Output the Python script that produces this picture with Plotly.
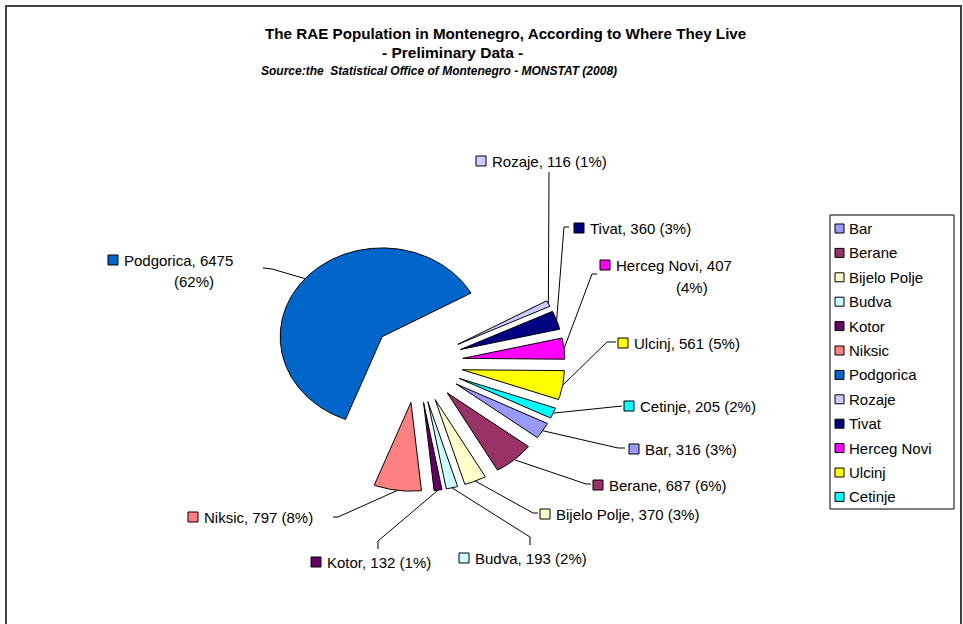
import math
import plotly.graph_objects as go

# data
towns = ['Bar', 'Berane', 'Bijelo Polje', 'Budva', 'Kotor', 'Niksic',
         'Podgorica', 'Rozaje', 'Tivat', 'Herceg Novi', 'Ulcinj', 'Cetinje']
population = [316, 687, 370, 193, 132, 797, 6475, 116, 360, 407, 561, 205]
percent = [3, 6, 3, 2, 1, 8, 62, 1, 3, 4, 5, 2]
colors = ['#9999FF', '#993366', '#FFFFCC', '#CCFFFF', '#660066', '#FF8080',
          '#0066CC', '#CCCCFF', '#000080', '#FF00FF', '#FFFF00', '#00FFFF']

W, H = 963, 624
FONT = 'Liberation Sans, Arial, sans-serif'

# pie geometry (pixels); the original picture is stretched sideways
CX, CY = 417, 362.8
RY = 88.7
XSTRETCH = 1.15
EXPLODE = 40
START = 116.5  # first slice starts here, degrees clockwise from 12 o'clock

# where each data label sits: square left x, centre y, leader hook points
label_pos = {
    'Bar':         dict(sx=629, cy=449, hook=[(625, 448), (618, 448)]),
    'Berane':      dict(sx=593, cy=485, hook=[(591, 484), (586, 484)]),
    'Bijelo Polje': dict(sx=540, cy=514, hook=[(538, 513), (533, 513)]),
    'Budva':       dict(sx=459, cy=558, hook=[(530, 545), (530, 537)]),
    'Kotor':       dict(sx=311, cy=562, hook=[(378, 549), (378, 541)]),
    'Niksic':      dict(sx=188, cy=517, hook=[(333, 517), (338, 517)]),
    'Podgorica':   dict(sx=108, cy=260, hook=[(263, 268), (272, 269)], l2=(172, 281)),
    'Rozaje':      dict(sx=476, cy=161, hook=[(549, 172)]),
    'Tivat':       dict(sx=574, cy=228, hook=[(569, 227), (564, 227)]),
    'Herceg Novi': dict(sx=600, cy=265, hook=[(597, 274), (592, 274)], l2=(674, 287)),
    'Ulcinj':      dict(sx=618, cy=343, hook=[(616, 342), (607, 342)]),
    'Cetinje':     dict(sx=624, cy=406, hook=[(622, 406)]),
}


def pt(ox, oy, angle, dist):
    a = math.radians(angle)
    return ox + XSTRETCH * dist * math.sin(a), oy - dist * math.cos(a)


fig = go.Figure()
total = sum(population)
cum = 0
anchors = {}
for name, v, col in zip(towns, population, colors):
    a0 = START + 360 * cum / total
    a1 = START + 360 * (cum + v) / total
    mid = (a0 + a1) / 2
    cum += v
    ox, oy = pt(CX, CY, mid, EXPLODE)
    n = int(a1 - a0) + 2
    xs, ys = [ox], [oy]
    for k in range(n + 1):
        x, y = pt(ox, oy, a0 + (a1 - a0) * k / n, RY)
        xs.append(x)
        ys.append(y)
    xs.append(ox)
    ys.append(oy)
    fig.add_trace(go.Scatter(x=xs, y=ys, mode='lines', fill='toself', fillcolor=col,
                             line=dict(color='black', width=1), showlegend=False,
                             hoverinfo='text', text='%s: %d' % (name, v)))
    anchors[name] = pt(CX, CY, mid, EXPLODE + RY)

# leader lines
lx, ly = [], []
for name in towns:
    pts = label_pos[name]['hook'] + [anchors[name]]
    for p in pts:
        lx.append(p[0])
        ly.append(p[1])
    lx.append(None)
    ly.append(None)
fig.add_trace(go.Scatter(x=lx, y=ly, mode='lines', line=dict(color='black', width=1),
                         showlegend=False, hoverinfo='skip'))

shapes = []
annotations = []

# data labels
for name, v, p, col in zip(towns, population, percent, colors):
    lp = label_pos[name]
    sx, cy = lp['sx'], lp['cy']
    shapes.append(dict(type='rect', xref='x', yref='y', x0=sx, x1=sx + 10, y0=cy - 5, y1=cy + 5,
                       fillcolor=col, line=dict(color='black', width=1)))
    txt = '%s, %d (%d%%)' % (name, v, p)
    if 'l2' in lp:
        first, second = txt.rsplit(' ', 1)
        annotations.append(dict(x=lp['l2'][0], y=lp['l2'][1], text=second, xref='x', yref='y',
                                xanchor='left', yanchor='middle', showarrow=False))
        txt = first
    annotations.append(dict(x=sx + 14, y=cy, text=txt, xref='x', yref='y',
                            xanchor='left', yanchor='middle', showarrow=False))

# legend box
shapes.append(dict(type='rect', xref='x', yref='y', x0=830, x1=954, y0=215, y1=509,
                   line=dict(color='black', width=1), fillcolor='white', layer='below'))
for i, (name, col) in enumerate(zip(towns, colors)):
    cy = 228.5 + 24.4 * i
    shapes.append(dict(type='rect', xref='x', yref='y', x0=835, x1=844, y0=cy - 4.5, y1=cy + 4.5,
                       fillcolor=col, line=dict(color='black', width=1)))
    annotations.append(dict(x=847, y=cy, text=name, xref='x', yref='y',
                            xanchor='left', yanchor='middle', showarrow=False))

# chart frame
shapes.append(dict(type='rect', xref='x', yref='y', x0=6, x1=961, y0=6, y1=700,
                   line=dict(color='#404040', width=2), layer='below'))

# titles
annotations.append(dict(x=505, y=33, xref='x', yref='y', showarrow=False,
                        text='<b>The RAE Population in Montenegro, According to Where They Live</b>',
                        font=dict(size=15.2)))
annotations.append(dict(x=452, y=52, xref='x', yref='y', showarrow=False,
                        text='<b>- Preliminary Data -</b>', font=dict(size=15.5)))
annotations.append(dict(x=259, y=71, xref='x', yref='y', showarrow=False, xanchor='left',
                        text='<b><i>Source:the  Statistical Office of Montenegro - MONSTAT (2008)</i></b>',
                        font=dict(size=12)))

fig.update_layout(
    width=W, height=H,
    margin=dict(l=0, r=0, t=0, b=0),
    paper_bgcolor='white', plot_bgcolor='white',
    font=dict(family=FONT, size=15, color='black'),
    xaxis=dict(range=[0, W], visible=False, fixedrange=True),
    yaxis=dict(range=[H, 0], visible=False, fixedrange=True),
    shapes=shapes, annotations=annotations,
    showlegend=False,
)
fig.write_html('out.html', config={'displayModeBar': False},
               post_script="document.body.style.margin='0';")
